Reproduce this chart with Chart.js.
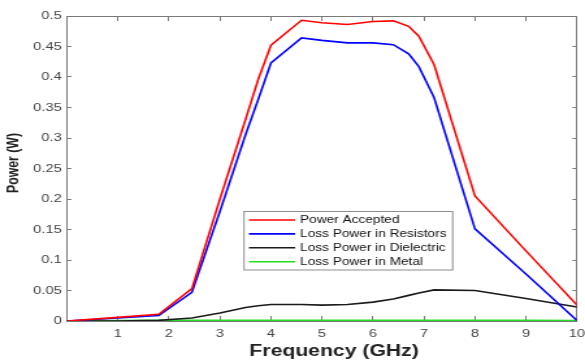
<!DOCTYPE html>
<html>
<head>
<meta charset="utf-8">
<script src="https://cdn.jsdelivr.net/npm/chart.js@4.4.1/dist/chart.umd.min.js"></script>
<style>
  html, body { margin: 0; padding: 0; background: #fff; overflow: hidden; }
  /* the figure is drawn narrow, then widened like the exported plot */
  #chart { transform: scaleX(1.3); transform-origin: 0 0; display: block; }
</style>
</head>
<body>
<canvas id="chart" width="450" height="361"></canvas>
<script>
// frequency points (GHz)
const freqGHz = [0, 1, 1.8, 2.45, 3, 3.5, 3.75, 4, 4.6, 5, 5.5, 6, 6.4, 6.7, 6.9, 7.2, 8, 9, 10];

// power values (W)
const powerAccepted = [0, 0.006, 0.011, 0.053, 0.2, 0.33, 0.396, 0.452, 0.493, 0.489, 0.486, 0.491, 0.492, 0.483, 0.467, 0.42, 0.205, 0.115, 0.026];
const lossResistors = [0, 0.005, 0.009, 0.047, 0.18, 0.305, 0.363, 0.423, 0.464, 0.46, 0.456, 0.456, 0.453, 0.438, 0.417, 0.366, 0.151, 0.077, 0.001];
const lossDielectric = [0, 0, 0.001, 0.005, 0.013, 0.022, 0.025, 0.027, 0.027, 0.026, 0.027, 0.031, 0.036, 0.042, 0.046, 0.051, 0.05, 0.037, 0.023];
const lossMetal = [0, 0.0005, 0.0008, 0.001, 0.001, 0.001, 0.001, 0.001, 0.001, 0.001, 0.001, 0.001, 0.001, 0.001, 0.001, 0.001, 0.001, 0.0008, 0.0005];

const seriesNames = ["Power Accepted", "Loss Power in Resistors", "Loss Power in Dielectric", "Loss Power in Metal"];
const seriesColors = ["#ff0000", "#0000ff", "#1a1a1a", "#22dd22"];

const xTicks = [0, 1, 2, 3, 4, 5, 6, 7, 8, 9, 10];
const yTicks = [0, 0.05, 0.1, 0.15, 0.2, 0.25, 0.3, 0.35, 0.4, 0.45, 0.5];

const FONT = "'Liberation Sans', Arial, Helvetica, sans-serif";
const AXIS_GRAY = "#7a7a7a";
Chart.defaults.font.family = FONT;

function toPoints(values) {
  return freqGHz.map((f, i) => ({ x: f, y: values[i] }));
}

// axis frame: border line plus short inward tick marks, no grid
function frame(tickLength) {
  return {
    grid: {
      display: true,
      drawOnChartArea: false,
      drawTicks: true,
      tickLength: tickLength,
      color: AXIS_GRAY,
    },
    border: { display: true, color: AXIS_GRAY, width: 1 },
  };
}

// axis titles
const axisTitles = {
  id: "axisTitles",
  afterDraw(chart) {
    const ctx = chart.ctx;
    ctx.save();
    ctx.fillStyle = "#222";
    ctx.textAlign = "center";
    ctx.textBaseline = "middle";
    ctx.font = "bold 16.3px " + FONT;
    ctx.fillText("Frequency (GHz)", 257, 352);
    ctx.translate(10.5, 163);
    ctx.rotate(-Math.PI / 2);
    ctx.font = "bold 12.3px " + FONT;
    ctx.fillText("Power (W)", 0, 0);
    ctx.restore();
  },
};

// legend inside the plot, framed like the MATLAB one
const boxLegend = {
  id: "boxLegend",
  afterDatasetsDraw(chart) {
    const ctx = chart.ctx;
    const left = 187.7, top = 211.5, width = 160.5, height = 58.5;
    ctx.save();
    ctx.fillStyle = "#ffffff";
    ctx.fillRect(left, top, width, height);
    ctx.strokeStyle = "#8c8c8c";
    ctx.lineWidth = 1;
    ctx.strokeRect(left, top, width, height);
    ctx.font = "10.5px " + FONT;
    ctx.textBaseline = "middle";
    ctx.textAlign = "left";
    chart.data.datasets.forEach((ds, i) => {
      const y = 220 + i * 13.9;
      ctx.strokeStyle = ds.borderColor;
      ctx.lineWidth = 1.6;
      ctx.beginPath();
      ctx.moveTo(191.5, y);
      ctx.lineTo(227, y);
      ctx.stroke();
      ctx.fillStyle = "#111";
      ctx.fillText(ds.label, 230.8, y + 0.5);
    });
    ctx.restore();
  },
};

new Chart(document.getElementById("chart"), {
  type: "line",
  data: {
    datasets: [powerAccepted, lossResistors, lossDielectric, lossMetal].map((vals, i) => ({
      label: seriesNames[i],
      data: toPoints(vals),
      borderColor: seriesColors[i],
      backgroundColor: seriesColors[i],
      borderWidth: i === 3 ? 2 : 1.6,
      pointRadius: 0,
      tension: 0,
      fill: false,
    })),
  },
  options: {
    responsive: false,
    animation: false,
    devicePixelRatio: 1,
    layout: { padding: { top: 16, right: 6.2, left: 0, bottom: 0 } },
    plugins: {
      legend: { display: false },
      tooltip: { enabled: false },
    },
    scales: {
      x: {
        type: "linear",
        position: "bottom",
        min: 0,
        max: 10,
        afterBuildTicks: (scale) => { scale.ticks = xTicks.map((v) => ({ value: v })); },
        afterFit: (scale) => {
          scale.height = 40;
          scale.paddingLeft = 0;
          scale.paddingRight = 0;
        },
        ...frame(-5),
        ticks: {
          padding: 11,
          color: "#444",
          font: { size: 11.3 },
          callback: (v) => (v === 0 ? "" : v),
        },
      },
      x2: {
        type: "linear",
        axis: "x",
        position: "top",
        min: 0,
        max: 10,
        afterBuildTicks: (scale) => { scale.ticks = xTicks.map((v) => ({ value: v })); },
        afterFit: (scale) => {
          scale.height = 0;
          scale.paddingLeft = 0;
          scale.paddingRight = 0;
        },
        ...frame(-5),
        ticks: { display: false },
      },
      y: {
        type: "linear",
        position: "left",
        min: 0,
        max: 0.5,
        afterBuildTicks: (scale) => { scale.ticks = yTicks.map((v) => ({ value: v })); },
        afterFit: (scale) => { scale.width = 51.5; },
        ...frame(-3.5),
        ticks: {
          padding: 7.5,
          color: "#444",
          font: { size: 11.3 },
          callback: (v) => String(parseFloat(v.toFixed(2))),
        },
      },
      y2: {
        type: "linear",
        axis: "y",
        position: "right",
        min: 0,
        max: 0.5,
        afterBuildTicks: (scale) => { scale.ticks = yTicks.map((v) => ({ value: v })); },
        afterFit: (scale) => { scale.width = 0; },
        ...frame(-3.5),
        ticks: { display: false },
      },
    },
  },
  plugins: [axisTitles, boxLegend],
});
</script>
</body>
</html>
